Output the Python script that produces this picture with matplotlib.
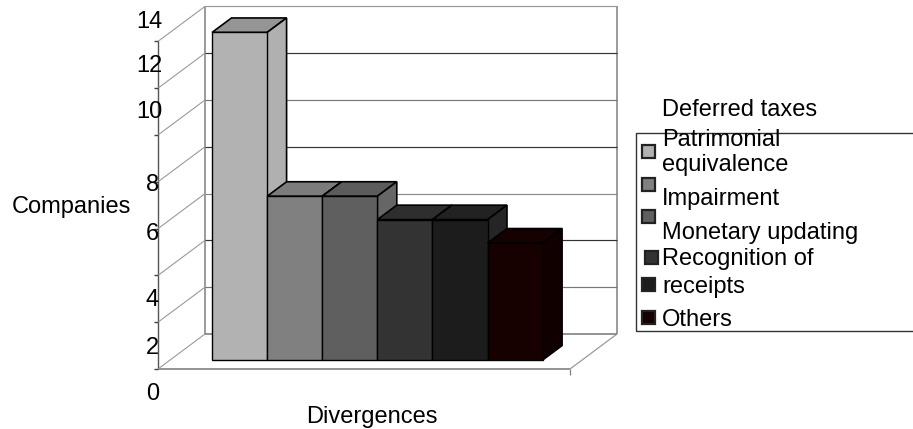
import matplotlib
matplotlib.use("Agg")
import matplotlib.pyplot as plt
from matplotlib.patches import Rectangle

W, H = 913, 429
plt.rcParams['font.family'] = ['Liberation Sans', 'DejaVu Sans']

categories = ["Deferred taxes", "Patrimonial\nequivalence", "Impairment",
              "Monetary updating", "Recognition of\nreceipts", "Others"]
values = [14, 7, 7, 6, 6, 5]
front_colors = ["#b2b2b2", "#808080", "#5f5f5f", "#333333", "#1c1c1c", "#170000"]
top_colors = ["#959595", "#7c7c7c", "#5c5c5c", "#2e2e2e", "#222222", "#170000"]
side_colors = ["#b0b0b0", "#808080", "#666666", "#2f2f2f", "#252525", "#100000"]
ticks = [0, 2, 4, 6, 8, 10, 12, 14]
# pixel centres of the tick labels (right edge x, centre y), as misplaced in the reference
tick_label_pos = {0: (159, 392), 2: (159, 346), 4: (159, 298), 6: (159, 232),
                  8: (159, 182), 10: (163, 109), 12: (163, 63), 14: (163, 19)}
grid_colors = {2: "#777777", 4: "#333333", 6: "#888888", 8: "#333333",
               10: "#777777", 12: "#333333", 14: "#999999"}

PX_X, PX_V = 55.1, 23.4            # pixels per category / per unit of value
LEFT_PX, FLOOR_PX = 158, 369       # front-left floor corner in image pixels
DEPTH_X, DEPTH_V = 47 / PX_X, 35 / PX_V
FLOOR_W = 412 / PX_X
BAR_X0 = (212 - 12 - LEFT_PX) / PX_X
D_FRONT, D_BACK = 0.257, 0.67

fig = plt.figure(figsize=(W / 100, H / 100), dpi=100, facecolor="white")
ax = fig.add_axes([0, 0, 1, 1])
ax.set_xlim(-LEFT_PX / PX_X, (W - LEFT_PX) / PX_X)
ax.set_ylim(-(H - FLOOR_PX) / PX_V, FLOOR_PX / PX_V)
ax.axis("off")


def proj(x, v, d):
    return x + d * DEPTH_X, v + d * DEPTH_V


def line(p, q, color, lw=1.0, z=1):
    ax.plot([p[0], q[0]], [p[1], q[1]], color=color, lw=lw, zorder=z,
            solid_capstyle="butt")


# walls, floor, grid
vmax = ticks[-1]
line(proj(0, 0, 1), proj(0, vmax, 1), "#8a8a8a", 1.2)
line(proj(FLOOR_W, 0, 1), proj(FLOOR_W, vmax, 1), "#8a8a8a", 1.2)
line(proj(0, 0, 0), proj(FLOOR_W, 0, 0), "#808080", 1.2)
line(proj(FLOOR_W, 0, 0), proj(FLOOR_W, 0, 1), "#9a9a9a", 0.9)
line(proj(0, 0, 1), proj(FLOOR_W, 0, 1), "#808080", 1.2)
line(proj(0, 0, 0), proj(0, vmax, 0), "#555555", 1.0)
for t in ticks:
    line(proj(0, t, 0), proj(0, t, 1), "#9a9a9a", 0.8)
    line((-4 / PX_X, t), (0, t), "#444444", 1.0)
    if t > 0:
        line(proj(0, t, 1), proj(FLOOR_W, t, 1), grid_colors[t], 0.85)
line((FLOOR_W, 0), (FLOOR_W, -6 / PX_V), "#808080", 0.9)

# bars, left to right so each hides the side of its left neighbour
for i, v in enumerate(values):
    x0, x1 = BAR_X0 + i, BAR_X0 + i + 1
    z = 3 + i
    kw = dict(edgecolor="black", linewidth=1.2, zorder=z, joinstyle="miter")
    a = proj(x0, v, D_FRONT); b = proj(x1, v, D_FRONT)
    c = proj(x1, v, D_BACK); d = proj(x0, v, D_BACK)
    ax.fill([a[0], b[0], c[0], d[0]], [a[1], b[1], c[1], d[1]],
            facecolor=top_colors[i], **kw)
    e = proj(x1, 0, D_FRONT); f = proj(x1, 0, D_BACK)
    ax.fill([b[0], c[0], f[0], e[0]], [b[1], c[1], f[1], e[1]],
            facecolor=side_colors[i], **kw)
    ax.bar(e[0] - 1, v, width=1, bottom=e[1], align="edge",
           color=front_colors[i], edgecolor="black", linewidth=1.0, zorder=z + 0.5)


def fx(px):
    return px / W


def fy(py):
    return 1 - py / H


FS = 17.0
for t in ticks:
    px, py = tick_label_pos[t]
    fig.text(fx(px), fy(py), str(t), fontsize=FS, ha="right", va="center_baseline")
fig.text(fx(12), fy(204), "Companies", fontsize=FS, ha="left", va="center_baseline")
fig.text(fx(372), fy(423), "Divergences", fontsize=FS, ha="center", va="baseline")

# legend
fig.add_artist(Rectangle((fx(636), fy(331)), fx(300), fy(133) - fy(331),
                         transform=fig.transFigure, fill=False,
                         edgecolor="#333333", linewidth=1.0))
label_lines = [108, 137, 163, 197, 230, 257, 285, 318]
line_texts = ["Deferred taxes", "Patrimonial", "equivalence", "Impairment",
              "Monetary updating", "Recognition of", "receipts", "Others"]
for py, s in zip(label_lines, line_texts):
    fig.text(fx(662), fy(py), s, fontsize=FS, ha="left", va="center_baseline", zorder=5)
handle_pos = [(648, 151), (648, 184), (648, 217), (651, 257), (648, 284), (648, 317)]
for (px, py), col in zip(handle_pos, front_colors):
    fig.add_artist(Rectangle((fx(px - 6.5), fy(py + 6.5)), 13 / W, 13 / H,
                             transform=fig.transFigure, facecolor=col,
                             edgecolor="#222222", linewidth=1.6))

fig.savefig("out.png", dpi=100, facecolor="white")
